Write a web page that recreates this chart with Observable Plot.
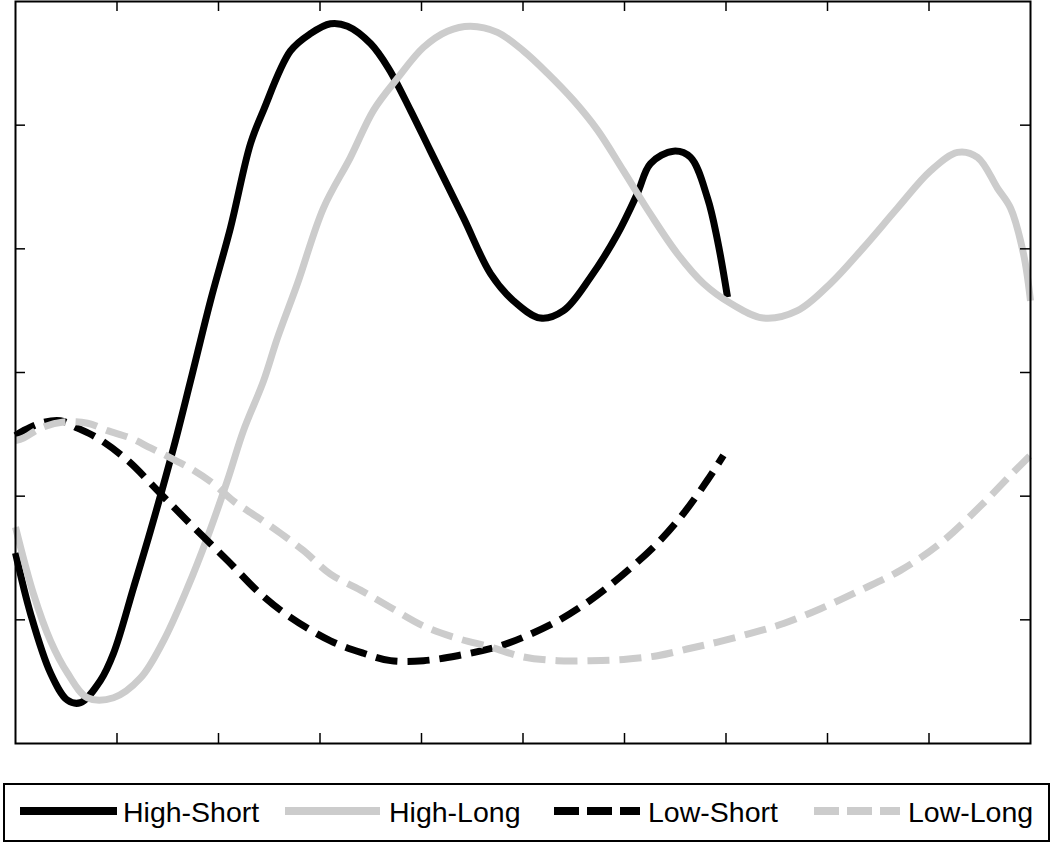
<!DOCTYPE html>
<html>
<head>
<meta charset="utf-8">
<script src="https://cdn.jsdelivr.net/npm/d3@7"></script>
<script src="https://cdn.jsdelivr.net/npm/@observablehq/plot@0.6"></script>
<style>
  html, body { margin: 0; padding: 0; background: #fff; }
  #wrap { position: relative; width: 1050px; height: 842px; }
  #chart { position: absolute; left: 0; top: 0; }
  #legend { position: absolute; left: 3px; top: 783px; width: 1043px; height: 55px;
            border: 2px solid #000; box-sizing: content-box; }
  .lbl { position: absolute; top: 0; font-family: "Liberation Sans", Arial, sans-serif;
         font-size: 28.5px; line-height: 55px; color: #000; white-space: nowrap; }
</style>
</head>
<body>
<div id="wrap">
  <div id="chart"></div>
  <div id="legend"></div>
</div>
<script>
// ---- Data ----
const seriesNames = ["High-Short", "High-Long", "Low-Short", "Low-Long"];
const seriesColors = ["#000000", "#cccccc", "#000000", "#cccccc"];
const seriesDashed = [false, false, true, true];

const highShortX = [0.00,0.148,0.345,0.512,0.640,0.837,0.966,1.163,1.330,1.557,1.724,1.921,2.118,2.315,2.443,2.709,2.906,3.103,3.271,3.498,3.675,3.892,4.089,4.414,4.680,4.906,5.172,5.399,5.665,5.931,6.128,6.256,6.483,6.650,6.818,6.916,7.015];
const highShortY = [1.54,1.05,0.57,0.35,0.33,0.51,0.73,1.26,1.72,2.39,2.93,3.58,4.17,4.85,5.12,5.60,5.74,5.82,5.80,5.66,5.46,5.12,4.79,4.25,3.80,3.58,3.44,3.50,3.77,4.12,4.45,4.69,4.79,4.74,4.41,4.07,3.61];

const highLongX = [0.000,0.177,0.345,0.512,0.709,0.966,1.232,1.458,1.695,1.892,2.089,2.246,2.443,2.581,2.778,3.034,3.300,3.527,3.764,4.020,4.256,4.483,4.749,5.005,5.241,5.498,5.734,5.990,6.256,6.522,6.778,7.044,7.369,7.704,8.030,8.355,8.690,9.015,9.281,9.478,9.675,9.803,9.931,10.0];
const highLongY = [1.75,1.21,0.83,0.57,0.37,0.37,0.53,0.83,1.26,1.67,2.13,2.53,2.93,3.28,3.72,4.33,4.74,5.12,5.38,5.63,5.76,5.80,5.75,5.60,5.42,5.20,4.96,4.63,4.28,3.96,3.72,3.56,3.44,3.50,3.72,4.01,4.33,4.63,4.78,4.74,4.49,4.33,3.96,3.58];

const lowShortX = [0.000,0.079,0.246,0.443,0.611,0.808,1.103,1.429,1.754,2.089,2.414,2.709,3.103,3.429,3.695,4.020,4.355,4.778,5.005,5.340,5.665,5.990,6.325,6.581,6.818,6.975];
const lowShortY = [2.49,2.53,2.59,2.61,2.55,2.47,2.29,2.02,1.75,1.48,1.21,1.02,0.83,0.73,0.67,0.67,0.71,0.79,0.86,0.99,1.16,1.37,1.62,1.86,2.13,2.33];

const lowLongX = [0.000,0.079,0.246,0.473,0.709,0.906,1.133,1.330,1.527,1.754,1.951,2.148,2.384,2.611,2.837,3.103,3.399,3.695,4.020,4.355,4.680,5.005,5.340,5.665,5.990,6.325,6.650,6.916,7.241,7.567,7.931,8.325,8.719,9.113,9.507,9.803,10.0];
const lowLongY = [2.45,2.47,2.55,2.60,2.59,2.53,2.47,2.39,2.31,2.21,2.10,1.96,1.83,1.70,1.56,1.37,1.24,1.10,0.95,0.85,0.78,0.70,0.67,0.67,0.68,0.71,0.77,0.82,0.89,0.97,1.09,1.24,1.40,1.62,1.92,2.17,2.33];

const xTicks = [1,2,3,4,5,6,7,8,9];
const yTicks = [1,2,3,4,5];

// ---- Build ----
const seriesX = [highShortX, highLongX, lowShortX, lowLongX];
const seriesY = [highShortY, highLongY, lowShortY, lowLongY];
const rows = [];
seriesNames.forEach((name, s) => {
  seriesX[s].forEach((x, i) => rows.push({series: name, x, y: seriesY[s][i]}));
});

const W = 1050, H = 760, mT = 1, mL = 15, mR = 20, mB = 17;
const innerW = W - mL - mR, innerH = H - mT - mB;
const tickLen = 10;

const lineMarks = seriesNames.map((name, s) =>
  Plot.line(rows.filter(r => r.series === name), {
    x: "x", y: "y",
    stroke: seriesColors[s],
    strokeWidth: 7,
    strokeDasharray: seriesDashed[s] ? "22,10" : null,
    strokeLinecap: "butt",
    strokeLinejoin: "round",
    curve: "catmull-rom"
  })
);

const chart = Plot.plot({
  width: W, height: H,
  marginTop: mT, marginLeft: mL, marginRight: mR, marginBottom: mB,
  x: {domain: [0, 10], axis: null},
  y: {domain: [0, 6], axis: null},
  marks: [
    ...lineMarks,
    Plot.tickX(xTicks, {x: d => d, insetTop: innerH - tickLen, stroke: "#000", strokeWidth: 1.5}),
    Plot.tickX(xTicks, {x: d => d, insetBottom: innerH - tickLen, stroke: "#000", strokeWidth: 1.5}),
    Plot.tickY(yTicks, {y: d => d, insetRight: innerW - tickLen, stroke: "#000", strokeWidth: 1.5}),
    Plot.tickY(yTicks, {y: d => d, insetLeft: innerW - tickLen, stroke: "#000", strokeWidth: 1.5}),
    Plot.frame({stroke: "#000", strokeWidth: 2})
  ]
});
document.getElementById("chart").appendChild(chart);

// ---- Legend ----
const legendSampleLeft = [15, 280, 549, 809];
const legendSampleWidth = [97, 95, 86, 86];
const legendLabelLeft = [118, 384, 643, 903];
const legend = d3.select("#legend");
seriesNames.forEach((name, s) => {
  const svg = legend.append("svg")
    .attr("width", legendSampleWidth[s]).attr("height", 55)
    .style("position", "absolute").style("left", legendSampleLeft[s] + "px").style("top", "0px");
  svg.append("line")
    .attr("x1", 0).attr("x2", legendSampleWidth[s])
    .attr("y1", 26).attr("y2", 26)
    .attr("stroke", seriesColors[s]).attr("stroke-width", 8)
    .attr("stroke-dasharray", seriesDashed[s] ? "25,8" : null);
  legend.append("div").attr("class", "lbl")
    .style("left", legendLabelLeft[s] + "px").text(name);
});
</script>
</body>
</html>
